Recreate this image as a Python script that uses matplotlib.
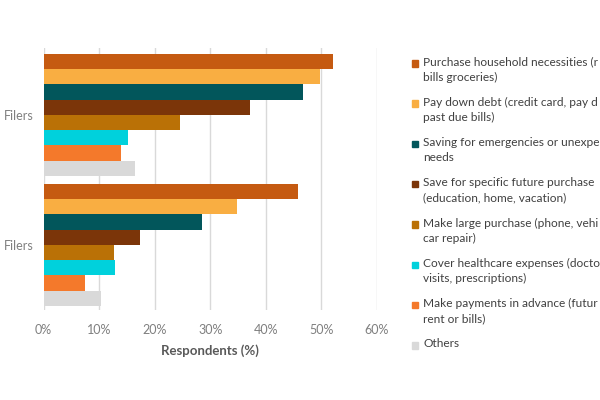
import numpy as np
import matplotlib
matplotlib.use("Agg")
import matplotlib.pyplot as plt
from matplotlib.patches import Rectangle

plt.rcParams['font.family'] = ['Lato', 'DejaVu Sans']

# the source picture is cropped, so only the visible part of each label is kept
groups = ['Filers', 'Filers']
categories = [
    'Purchase household necessities (r\nbills groceries)',
    'Pay down debt (credit card, pay d\npast due bills)',
    'Saving for emergencies or unexpe\nneeds',
    'Save for specific future purchase\n(education, home, vacation)',
    'Make large purchase (phone, vehi\ncar repair)',
    'Cover healthcare expenses (docto\nvisits, prescriptions)',
    'Make payments in advance (futur\nrent or bills)',
    'Others',
]
# percent of respondents, one list per group
top_vals = [52.2, 49.7, 46.8, 37.2, 24.6, 15.2, 14.0, 16.4]
bottom_vals = [45.9, 34.8, 28.6, 17.4, 12.7, 12.9, 7.5, 10.3]
colors = ['#C55A11', '#F9AE42', '#02565B', '#7B3509', '#BA7106',
          '#00D1DC', '#F4792B', '#D9D9D9']
xticks = [0, 10, 20, 30, 40, 50, 60]

fig = plt.figure(figsize=(6, 4), dpi=100)
ax = fig.add_axes([0.0728, 0.225, 0.555, 0.655])

vals = np.array([top_vals, bottom_vals])
h = 0.1173
for i, c in enumerate(colors):
    y = np.arange(len(groups)) + (i - 3.5) * h
    ax.barh(y, vals[:, i], height=h, color=c, zorder=2)

ax.set_xlim(0, 60)
ax.set_ylim(1.5, -0.515)
ax.set_xticks(xticks)
ax.set_xticklabels([f'{t}%' for t in xticks])
ax.set_yticks(range(len(groups)))
ax.set_yticklabels(groups)
ax.grid(axis='x', color='#D9D9D9', lw=1, zorder=0)
for s in ax.spines.values():
    s.set_visible(False)
ax.tick_params(axis='both', length=0, colors='#7F7F7F', labelsize=9)
ax.tick_params(axis='x', pad=10)
ax.tick_params(axis='y', pad=7.5)
ax.set_xlabel('Respondents (%)', fontsize=9.5, fontweight='bold',
              color='#595959', labelpad=6)

# legend drawn by hand so the square sits beside the first line
for i, (lab, c) in enumerate(zip(categories, colors)):
    yc = 1 - (63.3 + i * 40.3) / 400
    fig.patches.append(Rectangle((411.7 / 600, yc - 3.2 / 400), 6.3 / 600, 6.4 / 400,
                                 transform=fig.transFigure, color=c))
    fig.text(423 / 600, yc + 7 / 400, lab, fontsize=8.6, color='#404040',
             va='top', ha='left', linespacing=1.5)

fig.savefig('out.png', dpi=100)
